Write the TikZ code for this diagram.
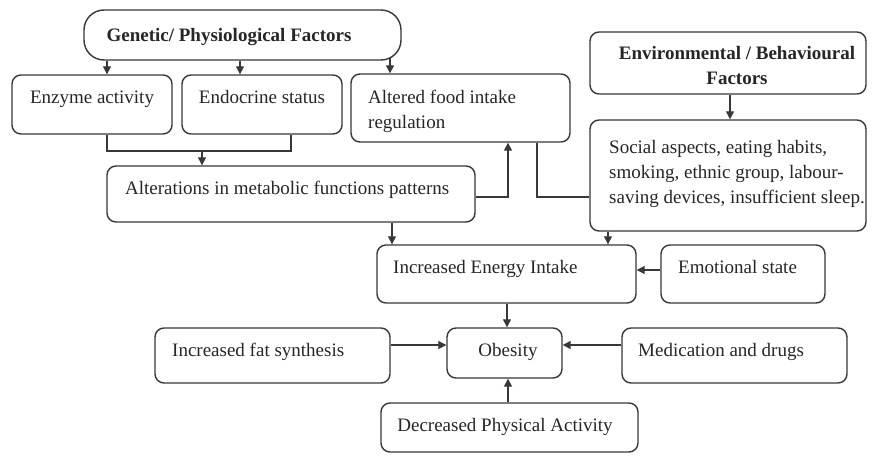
\documentclass[tikz,border=0pt]{standalone}
\usepackage{fontspec}
\setmainfont{Liberation Serif}
\usetikzlibrary{arrows.meta,calc}
\definecolor{linec}{gray}{0.22}
\definecolor{textc}{gray}{0.15}
\begin{document}
\begin{tikzpicture}[x=1pt,y=-1pt,
  box/.style={draw=linec, line width=1.4pt, rounded corners=9pt, inner sep=0pt},
  txt/.style={text=textc, inner sep=0pt, font=\fontsize{19}{25}\selectfont, anchor=base west},
  ctxt/.style={txt, anchor=base},
  btxt/.style={txt, anchor=base, font=\fontsize{19}{25}\selectfont\bfseries},
  conn/.style={draw=linec, line width=1.3pt},
  arr/.style={conn, -{Triangle[length=8pt,width=8pt]}}]
\useasboundingbox[fill=white] (0,0) rectangle (880,455);

% boxes
\node[box, rounded corners=20pt, minimum width=317pt, minimum height=50pt] (gen) at (242.5,35) {};
\node[box, minimum width=160pt, minimum height=59pt] (enz) at (92,104.5) {};
\node[box, minimum width=160pt, minimum height=59pt] (endo) at (262,104.5) {};
\node[box, minimum width=219pt, minimum height=68pt] (alt) at (460.5,108) {};
\node[box, minimum width=276pt, minimum height=62pt] (env) at (728,63) {};
\node[box, minimum width=276pt, minimum height=111pt] (soc) at (728,175.5) {};
\node[box, minimum width=368pt, minimum height=56pt] (met) at (291,194) {};
\node[box, minimum width=259pt, minimum height=58pt] (ene) at (506.5,274) {};
\node[box, minimum width=164pt, minimum height=58pt] (emo) at (743,274) {};
\node[box, minimum width=235pt, minimum height=55pt] (fat) at (272.5,355.5) {};
\node[box, minimum width=115pt, minimum height=50pt] (obe) at (504.5,353) {};
\node[box, minimum width=225pt, minimum height=55pt] (med) at (734.5,355.5) {};
\node[box, minimum width=257pt, minimum height=49pt] (dec) at (509.5,427.5) {};

% texts
\node[btxt] (tgen) at (229,41) {Genetic/ Physiological Factors};
\node[ctxt] (tenz) at (92,103) {Enzyme activity};
\node[ctxt] (tendo) at (262,103) {Endocrine status};
\node[txt] (talt1) at (368,103) {Altered food intake};
\node[txt] (talt2) at (368,128) {regulation};
\node[btxt] (tenv1) at (737,59) {Environmental / Behavioural};
\node[btxt] (tenv2) at (737,84) {Factors};
\node[txt] (tsoc1) at (609,153) {Social aspects, eating habits,};
\node[txt] (tsoc2) at (609,178) {smoking, ethnic group, labour-};
\node[txt] (tsoc3) at (609,203) {saving devices, insufficient sleep.};
\node[txt] (tmet) at (125,194) {Alterations in metabolic functions patterns};
\node[txt] (tene) at (393,273) {Increased Energy Intake};
\node[txt] (temo) at (678,273) {Emotional state};
\node[txt] (tfat) at (172,356) {Increased fat synthesis};
\node[ctxt] (tobe) at (508,356) {Obesity};
\node[txt] (tmed) at (638,356) {Medication and drugs};
\node[ctxt] (tdec) at (505,431) {Decreased Physical Activity};

% helper coordinates
\coordinate (c1) at (107,0);
\coordinate (c2) at (240,0);
\coordinate (c3) at (390,58);
\coordinate (b2) at (291,0);
\coordinate (br) at (202,151);
\coordinate (ma) at (508,197);
\coordinate (as) at (537,197);
\coordinate (ev) at (730,0);
\coordinate (sv) at (608,0);
\coordinate (mv) at (392,0);
\coordinate (ey) at (0,270);
\coordinate (ov) at (507,0);
\coordinate (oy) at (0,345);
\coordinate (dv) at (508,0);

% connectors
\draw[arr] (gen.south -| c1) -- (enz.north -| c1);
\draw[arr] (gen.south -| c2) -- (endo.north -| c2);
\draw[arr] (c3) -- (alt.north -| c3);
\draw[conn] (enz.south -| c1) |- (br) -| (endo.south -| b2);
\draw[arr] (br) -- (met.north -| br);
\draw[arr] (met.east |- ma) -| (alt.south -| ma);
\draw[conn] (alt.south -| as) |- (soc.west |- as);
\draw[arr] (env.south -| ev) -- (soc.north -| ev);
\draw[arr] (soc.south -| sv) -- (ene.north -| sv);
\draw[arr] (met.south -| mv) -- (ene.north -| mv);
\draw[arr] (emo.west |- ey) -- (ene.east |- ey);
\draw[arr] (ene.south -| ov) -- (obe.north -| ov);
\draw[arr] (fat.east |- oy) -- (obe.west |- oy);
\draw[arr] (med.west |- oy) -- (obe.east |- oy);
\draw[arr] (dec.north -| dv) -- (obe.south -| dv);
\end{tikzpicture}
\end{document}
